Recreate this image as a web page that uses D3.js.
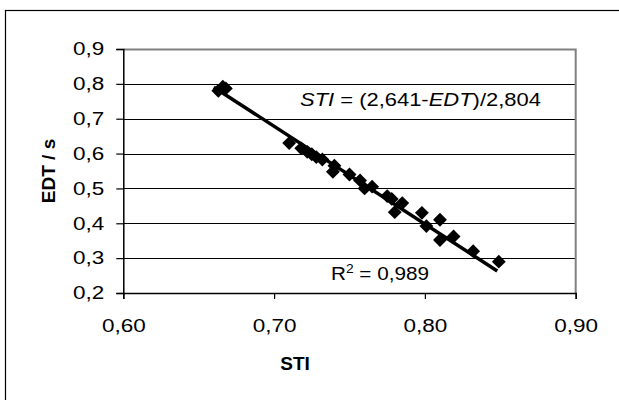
<!DOCTYPE html>
<html>
<head>
<meta charset="utf-8">
<script src="https://cdn.jsdelivr.net/npm/d3@7/dist/d3.min.js"></script>
<style>
  body { margin: 0; background: #fff; }
  text { font-family: "Liberation Sans", Arial, sans-serif; fill: #000; }
</style>
</head>
<body>
<div id="chart"></div>
<script>
// measured points (STI vs EDT)
var sti = [0.663, 0.666, 0.668, 0.710, 0.718, 0.722, 0.725, 0.728, 0.732, 0.740,
           0.739, 0.750, 0.757, 0.760, 0.765, 0.775, 0.778, 0.785, 0.780, 0.798,
           0.810, 0.801, 0.810, 0.819, 0.832, 0.849];
var edt = [0.780, 0.792, 0.787, 0.630, 0.615, 0.605, 0.598, 0.590, 0.583, 0.565,
           0.548, 0.540, 0.523, 0.500, 0.505, 0.478, 0.470, 0.458, 0.432, 0.430,
           0.410, 0.392, 0.352, 0.362, 0.320, 0.290];

var xTicks = [0.60, 0.70, 0.80, 0.90];
var yTicks = [0.2, 0.3, 0.4, 0.5, 0.6, 0.7, 0.8, 0.9];

// fit: STI = (2,641 - EDT) / 2,804
var fitA = 2.641, fitB = 2.804;
var fitRange = [0.660, 0.848];

var width = 619, height = 400;
var plot = {left: 123.3, top: 49, right: 575.7, bottom: 293};
var sx = 1.25; // horizontal stretch of the labels in the original

var svg = d3.select("#chart").append("svg")
    .attr("width", width)
    .attr("height", height);

svg.append("rect")
    .attr("width", width).attr("height", height)
    .attr("fill", "#fff");

// chart frame, runs off the right and bottom edges
svg.append("rect")
    .attr("x", 5.5).attr("y", 10.5)
    .attr("width", 700).attr("height", 500)
    .attr("fill", "none")
    .attr("stroke", "#000")
    .attr("stroke-width", 1.2);

var x = d3.scaleLinear().domain([0.6, 0.9]).range([plot.left, plot.right]);
var y = d3.scaleLinear().domain([0.2, 0.9]).range([plot.bottom, plot.top]);

var comma = function (n) { return function (d) { return d.toFixed(n).replace(".", ","); }; };

// grid lines
svg.append("g")
  .selectAll("line")
  .data(yTicks.filter(function (d) { return d > 0.2 && d < 0.9; }))
  .enter().append("line")
    .attr("x1", plot.left).attr("x2", plot.right)
    .attr("y1", function (d) { return Math.round(y(d)) + 0.5; })
    .attr("y2", function (d) { return Math.round(y(d)) + 0.5; })
    .attr("stroke", "#000")
    .attr("stroke-width", 1);

// gray plot border (top, right)
svg.append("path")
    .attr("d", "M" + plot.left + "," + (plot.top + 0.5) + "H" + plot.right + "V" + plot.bottom)
    .attr("fill", "none")
    .attr("stroke", "#808080")
    .attr("stroke-width", 2);

var yAxis = svg.append("g")
    .attr("transform", "translate(" + plot.left + ",0)")
    .call(d3.axisLeft(y).tickValues(yTicks).tickSize(7).tickPadding(12).tickFormat(comma(1)));

var xAxis = svg.append("g")
    .attr("transform", "translate(0," + plot.bottom + ")")
    .call(d3.axisBottom(x).tickValues(xTicks).tickSize(6).tickPadding(20).tickFormat(comma(2)));

[yAxis, xAxis].forEach(function (a) {
  a.select(".domain").attr("stroke", "#000").attr("stroke-width", 1.5);
  a.selectAll(".tick line").attr("stroke", "#000").attr("stroke-width", 1.2);
  a.selectAll("text")
    .attr("font-size", 18)
    .attr("font-family", "Liberation Sans, Arial, sans-serif")
    .attr("fill", "#000");
});
// stretch the tick labels sideways, keeping their anchor point
yAxis.selectAll("text")
    .attr("x", -19 / sx)
    .attr("transform", "scale(" + sx + ",1)");
xAxis.selectAll("text")
    .attr("transform", "scale(" + sx + ",1)");

// regression line
svg.append("line")
    .attr("x1", x(fitRange[0])).attr("y1", y(fitA - fitB * fitRange[0]))
    .attr("x2", x(fitRange[1])).attr("y2", y(fitA - fitB * fitRange[1]))
    .attr("stroke", "#000")
    .attr("stroke-width", 3.5);

// diamond markers
var pts = sti.map(function (s, i) { return {s: s, e: edt[i]}; });
svg.append("g")
  .selectAll("path")
  .data(pts)
  .enter().append("path")
    .attr("d", d3.symbol().type(d3.symbolSquare).size(96))
    .attr("transform", function (d) { return "translate(" + x(d.s) + "," + y(d.e) + ") rotate(45)"; })
    .attr("fill", "#000");

// equation and R²
var eq = svg.append("text")
    .attr("transform", "translate(300,106) scale(1.22,1)")
    .attr("font-size", 18);
eq.append("tspan").attr("font-style", "italic").text("STI");
eq.append("tspan").text(" = (2,641-");
eq.append("tspan").attr("font-style", "italic").text("EDT");
eq.append("tspan").text(")/2,804");

var r2 = svg.append("text")
    .attr("transform", "translate(331,280) scale(1.15,1)")
    .attr("font-size", 18);
r2.append("tspan").text("R");
r2.append("tspan").attr("dy", -7).attr("font-size", 12).text("2");
r2.append("tspan").attr("dy", 7).text(" = 0,989");

// axis titles
svg.append("text")
    .attr("x", 295).attr("y", 370)
    .attr("text-anchor", "middle")
    .attr("font-size", 19)
    .attr("font-weight", "bold")
    .text("STI");

svg.append("text")
    .attr("transform", "translate(55,171) rotate(-90)")
    .attr("text-anchor", "middle")
    .attr("font-size", 19)
    .attr("font-weight", "bold")
    .text("EDT / s");
</script>
</body>
</html>
